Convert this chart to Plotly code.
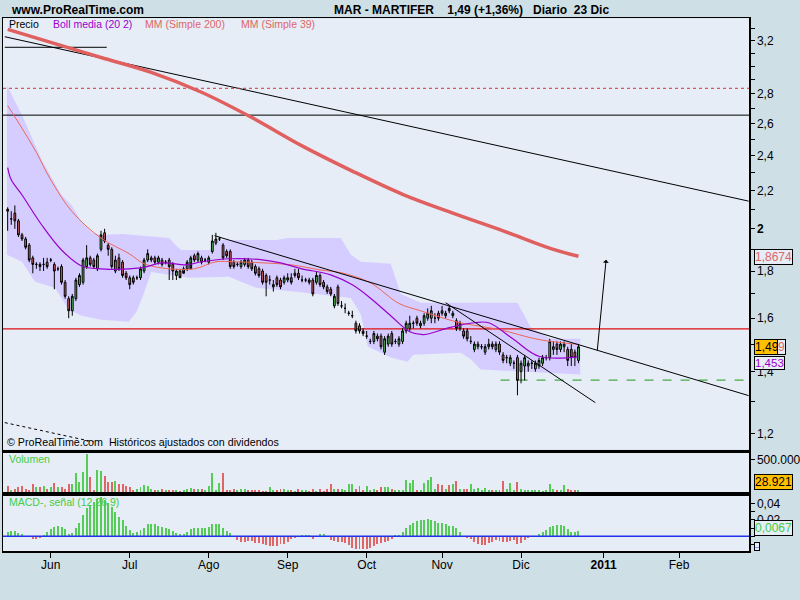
import math
import plotly.graph_objects as go

# ---------------- data (trading-day index: 0 = 1 Jun 2010) ----------------
idx = list(range(-12, 148))

open_ = [2.10,2.05,2.08,2.04,1.97,1.95,1.92,1.86,1.83,1.83,1.83,1.84,
         1.85,1.83,1.81,1.82,1.75,1.68,1.63,1.68,1.74,1.75,
         1.82,1.86,1.85,1.81,1.90,1.98,1.92,1.90,1.80,1.86,
         1.84,1.79,1.77,1.77,1.77,1.77,1.80,1.85,1.85,1.86,
         1.84,1.85,1.84,1.85,1.83,1.78,1.80,1.79,1.81,1.81,
         1.87,1.85,1.86,1.85,1.84,1.89,1.93,1.95,1.92,1.89,
         1.89,1.84,1.83,1.82,1.83,1.85,1.84,1.82,1.81,1.80,
         1.78,1.76,1.73,1.77,1.76,1.75,1.76,1.77,1.78,1.79,
         1.76,1.76,1.76,1.76,1.75,1.78,1.75,1.73,1.72,1.65,
         1.73,1.65,1.64,1.62,1.61,1.58,1.57,1.55,1.53,1.51,
         1.51,1.53,1.53,1.47,1.50,1.54,1.51,1.50,1.51,1.55,
         1.56,1.58,1.60,1.57,1.58,1.60,1.60,1.60,1.62,1.63,
         1.61,1.64,1.61,1.59,1.56,1.55,1.55,1.51,1.48,1.49,
         1.49,1.47,1.49,1.50,1.48,1.50,1.46,1.45,1.43,1.43,
         1.45,1.40,1.42,1.42,1.43,1.41,1.42,1.43,1.45,1.45,
         1.48,1.50,1.48,1.49,1.48,1.48,1.47,1.44]
high = [2.11,2.09,2.12,2.05,1.98,1.96,1.93,1.87,1.84,1.84,1.86,1.86,
        1.86,1.84,1.82,1.83,1.76,1.69,1.70,1.77,1.79,1.86,
        1.92,1.87,1.86,1.88,1.99,2.00,1.93,1.91,1.87,1.88,
        1.85,1.80,1.78,1.78,1.78,1.82,1.86,1.90,1.87,1.87,
        1.87,1.86,1.85,1.86,1.84,1.81,1.81,1.82,1.85,1.87,
        1.88,1.89,1.87,1.86,1.87,1.97,1.98,1.96,1.93,1.90,
        1.90,1.85,1.84,1.85,1.86,1.86,1.85,1.83,1.82,1.81,
        1.79,1.78,1.76,1.78,1.77,1.78,1.79,1.79,1.81,1.81,
        1.78,1.77,1.77,1.77,1.80,1.79,1.76,1.74,1.73,1.70,
        1.74,1.67,1.66,1.63,1.63,1.59,1.58,1.56,1.55,1.52,
        1.55,1.54,1.54,1.53,1.54,1.55,1.52,1.53,1.56,1.59,
        1.61,1.59,1.61,1.59,1.62,1.64,1.65,1.62,1.63,1.65,
        1.63,1.65,1.63,1.60,1.59,1.56,1.56,1.53,1.51,1.51,
        1.50,1.50,1.52,1.51,1.51,1.51,1.47,1.46,1.46,1.44,
        1.46,1.44,1.46,1.44,1.44,1.44,1.45,1.46,1.46,1.52,
        1.51,1.51,1.51,1.51,1.49,1.50,1.48,1.50]
low = [1.99,2.02,2.00,1.96,1.94,1.90,1.84,1.79,1.81,1.80,1.80,1.81,
       1.84,1.72,1.80,1.74,1.68,1.60,1.61,1.67,1.73,1.74,
       1.81,1.82,1.81,1.80,1.89,1.93,1.87,1.81,1.79,1.80,
       1.77,1.76,1.72,1.74,1.76,1.76,1.79,1.84,1.84,1.83,
       1.83,1.82,1.83,1.76,1.76,1.76,1.78,1.80,1.80,1.84,
       1.84,1.84,1.83,1.84,1.83,1.88,1.92,1.94,1.85,1.86,
       1.81,1.81,1.82,1.81,1.82,1.81,1.80,1.78,1.77,1.74,
       1.69,1.74,1.71,1.73,1.72,1.74,1.75,1.74,1.77,1.76,
       1.75,1.75,1.74,1.69,1.74,1.73,1.72,1.70,1.69,1.64,
       1.65,1.64,1.62,1.61,1.60,1.54,1.54,1.53,1.52,1.50,
       1.50,1.51,1.48,1.46,1.49,1.49,1.50,1.49,1.50,1.54,
       1.55,1.56,1.57,1.56,1.57,1.59,1.58,1.58,1.59,1.61,
       1.60,1.62,1.60,1.55,1.55,1.52,1.51,1.50,1.47,1.48,
       1.48,1.46,1.48,1.48,1.47,1.46,1.43,1.43,1.42,1.41,
       1.32,1.36,1.37,1.40,1.41,1.40,1.41,1.42,1.44,1.44,
       1.46,1.46,1.47,1.47,1.42,1.42,1.42,1.43]
close = [2.09,2.05,2.04,1.97,1.95,1.91,1.85,1.83,1.83,1.82,1.83,1.82,
         1.85,1.80,1.81,1.75,1.69,1.63,1.69,1.76,1.78,1.85,
         1.86,1.83,1.82,1.87,1.97,1.94,1.90,1.82,1.85,1.81,
         1.78,1.77,1.74,1.75,1.77,1.81,1.85,1.88,1.86,1.84,
         1.86,1.83,1.84,1.82,1.80,1.80,1.77,1.81,1.84,1.86,
         1.85,1.88,1.84,1.85,1.86,1.94,1.95,1.95,1.86,1.87,
         1.82,1.82,1.83,1.84,1.85,1.82,1.81,1.79,1.78,1.75,
         1.75,1.76,1.74,1.74,1.73,1.77,1.77,1.75,1.79,1.77,
         1.76,1.76,1.75,1.70,1.78,1.74,1.73,1.71,1.70,1.69,
         1.66,1.65,1.64,1.62,1.61,1.55,1.55,1.54,1.53,1.51,
         1.54,1.52,1.49,1.52,1.53,1.50,1.51,1.52,1.55,1.58,
         1.58,1.58,1.58,1.58,1.61,1.62,1.63,1.60,1.60,1.62,
         1.62,1.63,1.62,1.56,1.58,1.53,1.52,1.51,1.50,1.50,
         1.49,1.49,1.50,1.49,1.50,1.47,1.44,1.45,1.45,1.43,
         1.37,1.43,1.45,1.43,1.43,1.43,1.44,1.45,1.45,1.51,
         1.49,1.48,1.50,1.50,1.44,1.45,1.45,1.49]

volume = [88,36,52,77,98,52,36,129,77,77,93,52,
          77,139,77,77,52,129,129,283,155,300,
          577,222,36,335,320,242,155,155,165,129,
          129,88,77,36,52,77,103,88,52,26,
          36,52,36,26,26,26,15,26,52,57,
          52,41,41,26,88,293,26,139,283,26,
          26,41,26,41,52,26,26,26,26,15,
          15,77,36,26,41,41,26,26,15,41,
          26,26,15,41,15,52,15,41,129,41,
          41,41,26,129,129,52,88,26,98,26,
          41,26,77,77,77,52,26,26,36,180,
          139,180,36,26,139,180,232,52,118,103,
          52,103,129,165,41,52,41,129,41,62,
          26,67,26,36,36,26,165,41,144,26,
          150,41,26,26,26,26,26,15,26,118,
          41,26,26,103,52,26,26,28.921]  # thousands

macd_hist = [0.0048,0.0064,0.0064,0.0036,0.0024,0.0008,-0.0012,-0.0036,-0.0036,-0.0024,0.0016,0.0056,
             0.0089,0.0109,0.0125,0.0117,0.0085,0.0024,0.0036,0.0097,0.0157,0.0258,
             0.0339,0.0380,0.0420,0.0448,0.0472,0.0440,0.0408,0.0351,0.0299,0.0238,
             0.0198,0.0125,0.0077,0.0036,0.0056,0.0077,0.0097,0.0145,0.0145,0.0145,
             0.0125,0.0109,0.0105,0.0089,0.0064,0.0036,0.0024,0.0024,0.0056,0.0089,
             0.0097,0.0105,0.0097,0.0097,0.0109,0.0145,0.0145,0.0145,0.0097,0.0064,
             0.0036,0.0,-0.0044,-0.0064,-0.0064,-0.0052,-0.0052,-0.0077,-0.0085,-0.0093,
             -0.0105,-0.0117,-0.0117,-0.0117,-0.0093,-0.0093,-0.0064,-0.0036,-0.0016,0.0,
             0.0012,0.0012,0.0012,-0.0028,0.0,0.0028,0.0028,0.0,-0.0044,-0.0052,
             -0.0064,-0.0064,-0.0085,-0.0105,-0.0137,-0.0149,-0.0149,-0.0149,-0.0149,-0.0137,
             -0.0117,-0.0093,-0.0077,-0.0064,-0.0052,-0.0036,0.0016,0.0020,0.0056,0.0097,
             0.0137,0.0165,0.0186,0.0198,0.0198,0.0210,0.0198,0.0186,0.0165,0.0165,
             0.0145,0.0125,0.0125,0.0097,0.0056,0.0,-0.0024,-0.0036,-0.0065,-0.0093,
             -0.0105,-0.0105,-0.0085,-0.0065,-0.0044,-0.0052,-0.0065,-0.0065,-0.0052,-0.0044,
             -0.0097,-0.0085,-0.0044,-0.0024,-0.0012,-0.0004,0.0024,0.0056,0.0077,0.0109,
             0.0125,0.0133,0.0133,0.0125,0.0089,0.0056,0.0056,0.0067]

mm200_idx = [-12, 0, 14, 28, 42, 56, 70, 84, 98, 112, 126, 140, 147]
mm200_val = [3.29, 3.185, 3.067, 2.955, 2.812, 2.64, 2.46, 2.31, 2.18, 2.08, 1.99, 1.90, 1.8674]

mm39_idx = [-12, -8, -4, 0, 6, 14, 22, 26, 33, 40, 46, 51, 59, 67, 75, 81, 89, 97, 103, 109, 114, 125, 136, 147]
mm39_val = [2.72, 2.57, 2.42, 2.26, 2.086, 1.954, 1.878, 1.833, 1.81, 1.81, 1.842, 1.842, 1.837, 1.828,
            1.805, 1.792, 1.748, 1.66, 1.63, 1.602, 1.582, 1.555, 1.517, 1.4989]

bbmid_idx = [-12, -11, -8, -2.5, 3, 8.6, 14, 25, 31, 38, 42, 50, 59, 64, 70, 78, 84, 89, 95, 100, 104, 111, 118, 122, 129, 136, 147]
bbmid_val = [2.33, 2.26, 2.176, 2.019, 1.897, 1.823, 1.81, 1.814, 1.837, 1.828, 1.842, 1.856, 1.851,
             1.837, 1.81, 1.783, 1.739, 1.683, 1.606, 1.547, 1.536, 1.563, 1.582, 1.582, 1.517, 1.455, 1.453]

bbup_idx = [-12.2, -8, -2.5, 3, 5.8, 8.6, 11.4, 14, 20, 28, 33, 35, 36.4, 44.7, 45.6, 63, 66, 80.8,
            83.6, 86.4, 94.7, 97.5, 103, 130, 133.6, 139.2, 147.5]
bbup_val = [2.86, 2.655, 2.374, 2.176, 2.121, 2.034, 1.983, 1.969, 1.974, 1.964, 1.955, 1.916, 1.897,
            1.897, 1.945, 1.945, 1.955, 1.955, 1.874, 1.842, 1.833, 1.70, 1.663, 1.663, 1.566, 1.52, 1.52]

bblo_idx = [-12.2, -8, -4.4, 1.1, 3, 5, 8.6, 14, 21.7, 23.9, 25.8, 28, 38.6, 49.7, 53, 57.2, 68.3,
            83.6, 86.4, 88.3, 94.7, 99.4, 101, 114.2, 117, 119.7, 147.5]
bblo_val = [1.874, 1.842, 1.752, 1.726, 1.683, 1.634, 1.61, 1.594, 1.586, 1.626, 1.696, 1.796, 1.77,
            1.774, 1.752, 1.726, 1.709, 1.683, 1.614, 1.491, 1.451, 1.435, 1.461, 1.468, 1.444, 1.408, 1.39]

month_idx = [0, 22, 44, 66, 88, 109, 131, 154, 175]
month_lbl = ["Jun", "Jul", "Ago", "Sep", "Oct", "Nov", "Dic", "<b>2011</b>", "Feb"]

price_ticks = [1.2, 1.4, 1.6, 1.8, 2.0, 2.2, 2.4, 2.6, 2.8, 3.2]
price_lbls = ["1,2", "1,4", "1,6", "1,8", "<b>2</b>", "2,2", "2,4", "2,6", "2,8", "3,2"]
price_minor = [1.3, 1.5, 1.7, 1.9, 2.1, 2.3, 2.5, 2.7, 2.9, 3.0, 3.1, 3.3]

# hand-drawn lines on the price panel: (idx0, price0, idx1, price1, color, dash, width)
drawings = [
    (-12.8, 3.23, 194.4, 2.143, "black", "solid", 1),
    (-12.8, 3.146, 15.6, 3.146, "black", "solid", 1),
    (-13.3, 2.656, 194.5, 2.656, "black", "solid", 1),
    (-13.3, 2.84, 194.5, 2.84, "#cc3333", "dot", 1),
    (-13.3, 1.558, 194.5, 1.558, "#dd1111", "solid", 1.3),
    (125.3, 1.371, 193.3, 1.371, "#44aa44", "dash", 1.3),
    (45.6, 1.966, 194.4, 1.319, "black", "solid", 1),
    (110.0, 1.663, 151.7, 1.296, "black", "solid", 1),
    (-12.8, 1.233, 12.0, 1.175, "black", "dot", 1),
]
arrow = (152.2, 1.471, 154.7, 1.851)

# ---------------- figure ----------------
W, H = 800, 600
def py(y):
    return 1 - y / H

XD = [3 / W, 749 / W]
Y_MAIN = [py(449.5), py(18.3)]
Y_VOL = [py(492), py(452.5)]
Y_MACD = [py(551), py(495.5)]
YR_MAIN = [math.log10(1.153), math.log10(3.382)]

GREEN = "#55cc55"
RED = "#e06666"
FONT = "Liberation Sans"

fig = go.Figure()

# base price layer: Bollinger envelope, horizontal levels, MM200
fig.add_trace(go.Scatter(x=bbup_idx + bblo_idx[::-1], y=bbup_val + bblo_val[::-1], fill="toself",
                         fillcolor="#d5cdff", line=dict(width=0), mode="lines", hoverinfo="skip",
                         xaxis="x3", yaxis="y"))

for (a0, p0, a1, p1, col, dash, wd) in drawings[:6]:
    fig.add_trace(go.Scatter(x=[a0, a1], y=[p0, p1], mode="lines", line=dict(color=col, dash=dash, width=wd),
                             hoverinfo="skip", xaxis="x3", yaxis="y"))

fig.add_trace(go.Scatter(x=mm200_idx, y=mm200_val, mode="lines", line=dict(color="#e06060", width=3.5, shape="spline"),
                         hoverinfo="skip", xaxis="x3", yaxis="y"))

# overlay price layer: candles, then averages and trend lines on top
fig.add_trace(go.Candlestick(x=idx, open=open_, high=high, low=low, close=close,
                             increasing=dict(line=dict(color="black", width=1), fillcolor=GREEN),
                             decreasing=dict(line=dict(color="black", width=1), fillcolor=RED),
                             whiskerwidth=0, xaxis="x3", yaxis="y4", hoverinfo="skip"))

fig.add_trace(go.Scatter(x=mm39_idx, y=mm39_val, mode="lines", line=dict(color="#ee6655", width=1, shape="spline"),
                         hoverinfo="skip", xaxis="x3", yaxis="y4"))
fig.add_trace(go.Scatter(x=bbmid_idx, y=bbmid_val, mode="lines", line=dict(color="#9900cc", width=1.2, shape="spline"),
                         hoverinfo="skip", xaxis="x3", yaxis="y4"))

for (a0, p0, a1, p1, col, dash, wd) in drawings[6:]:
    fig.add_trace(go.Scatter(x=[a0, a1], y=[p0, p1], mode="lines", line=dict(color=col, dash=dash, width=wd),
                             hoverinfo="skip", xaxis="x3", yaxis="y4"))

# volume
vcol = [GREEN if c >= o else RED for o, c in zip(open_, close)]
fig.add_trace(go.Bar(x=idx, y=[v * 1000 for v in volume], marker=dict(color=vcol, line=dict(width=0)),
                     width=0.55, xaxis="x2", yaxis="y2", hoverinfo="skip"))

# MACD histogram
mcol = [GREEN if v >= 0 else RED for v in macd_hist]
fig.add_trace(go.Bar(x=idx, y=macd_hist, marker=dict(color=mcol, line=dict(width=0)),
                     width=0.55, xaxis="x", yaxis="y3", hoverinfo="skip"))

XR = [-13.3, 194.5]
axis_common = dict(showline=True, linecolor="black", linewidth=1.5, mirror=True, showgrid=False,
                   zeroline=False)
yfont = dict(family=FONT, size=12, color="black")

fig.update_layout(
    width=W, height=H, margin=dict(l=0, r=0, t=0, b=0), autosize=False,
    paper_bgcolor="#cfdfe6", plot_bgcolor="#e6edf7", showlegend=False,
    separators=",.", bargap=0,
    xaxis=dict(domain=XD, anchor="y3", range=XR, tickmode="array", tickvals=month_idx, ticktext=month_lbl,
               ticks="outside", ticklen=5, tickcolor="black", tickfont=dict(family=FONT, size=12, color="black"),
               ticklabelstandoff=-3, rangeslider=dict(visible=False), **axis_common),
    xaxis2=dict(domain=XD, anchor="y2", range=XR, matches="x", showticklabels=False, ticks="",
                rangeslider=dict(visible=False), **axis_common),
    xaxis3=dict(domain=XD, anchor="y", range=XR, matches="x", showticklabels=False, ticks="",
                rangeslider=dict(visible=False), **axis_common),
    yaxis=dict(domain=Y_MAIN, anchor="x3", side="right", type="log",
               range=YR_MAIN, tickmode="array", tickvals=price_ticks,
               ticktext=price_lbls, ticks="outside", ticklen=4, tickcolor="black", tickfont=yfont,
               minor=dict(tickvals=price_minor, ticks="outside", ticklen=4, tickcolor="black"),
               **axis_common),
    yaxis4=dict(overlaying="y", anchor="x3", side="right", type="log", range=YR_MAIN,
                showticklabels=False, ticks="", showline=False, showgrid=False, zeroline=False),
    yaxis2=dict(domain=Y_VOL, anchor="x2", side="right", range=[0, 604000], tickmode="array",
                tickvals=[500000], ticktext=["500.000"], ticks="outside", ticklen=4, tickcolor="black",
                tickfont=yfont, **axis_common),
    yaxis3=dict(domain=Y_MACD, anchor="x", side="right", range=[-0.0178, 0.0495], tickmode="array",
                tickvals=[0.02, 0.04], ticktext=["0,02", "0,04"], ticks="outside", ticklen=4, tickcolor="black",
                tickfont=yfont,
                minor=dict(tickvals=[-0.01, 0.0, 0.01, 0.03], ticks="outside", ticklen=4, tickcolor="black"),
                **axis_common),
)

# MACD zero line
fig.add_shape(type="line", xref="x domain", yref="y3", x0=0, x1=1, y0=0, y1=0,
              line=dict(color="#2233ee", width=1.5))

ann = []
def text(x, y, s, color="black", size=11, bold=False, family=FONT, **kw):
    if bold:
        s = "<b>" + s + "</b>"
    d = dict(x=x / W, y=py(y), xref="paper", yref="paper", text=s, showarrow=False, xanchor="left",
             yanchor="middle", font=dict(family=family, size=size, color=color))
    d.update(kw)
    ann.append(d)

text(9, 9.5, "www.ProRealTime.com", size=12, bold=True)
text(332, 9.5, "MAR - MARTIFER\u00a0\u00a0\u00a0\u00a01,49 (+1,36%)\u00a0\u00a0\u00a0Diario\u00a0\u00a023 Dic", size=12, bold=True)
text(7, 24, "Precio", size=10.5)
text(51, 24, "Boll media (20 2)", color="#9900cc", size=10.5)
text(143, 24, "MM (Simple 200)", color="#e06666", size=10.5)
text(239, 24, "MM (Simple 39)", color="#e06666", size=10.5)
text(5, 442, "\u00a9 ProRealTime.com\u00a0\u00a0Históricos ajustados con dividendos", size=10.7)
text(7, 459, "Volumen", color="#44cc44", size=10.5)
text(7, 502, "MACD-, señal (12 26 9)", color="#44cc44", size=10.5)

box = dict(bordercolor="black", borderwidth=1, borderpad=0)
text(754, 257, "1,8674", color="#e06666", size=12, bgcolor="#e6edf7", **box)
text(754, 347, "1,49", color="black", size=12, bgcolor="#ffc000", **box)
text(777, 347, "9", color="#e06666", size=12, bgcolor="#e6edf7", **box)
text(754, 363, "1,453", color="#9900cc", size=11.5, bgcolor="#e6edf7", **box)
text(754, 482, "28.921", color="black", size=12, bgcolor="#ffc000", **box)
text(754, 528, "0,0067", color="#44cc44", size=12, bgcolor="#e6edf7", **box)
text(754, 546, "\u2013", color="#2233ee", size=7, bgcolor="#e6edf7", **box)

ann.append(dict(x=arrow[2], y=math.log10(arrow[3]), ax=arrow[0], ay=math.log10(arrow[1]),
                xref="x3", yref="y", axref="x3", ayref="y", showarrow=True, arrowhead=1,
                arrowsize=1, arrowwidth=1, arrowcolor="black", text=""))

fig.update_layout(annotations=ann)
fig.write_html("out.html", config={"displayModeBar": False, "staticPlot": True},
               post_script="document.body.style.margin='0px';document.body.style.overflow='hidden';")
